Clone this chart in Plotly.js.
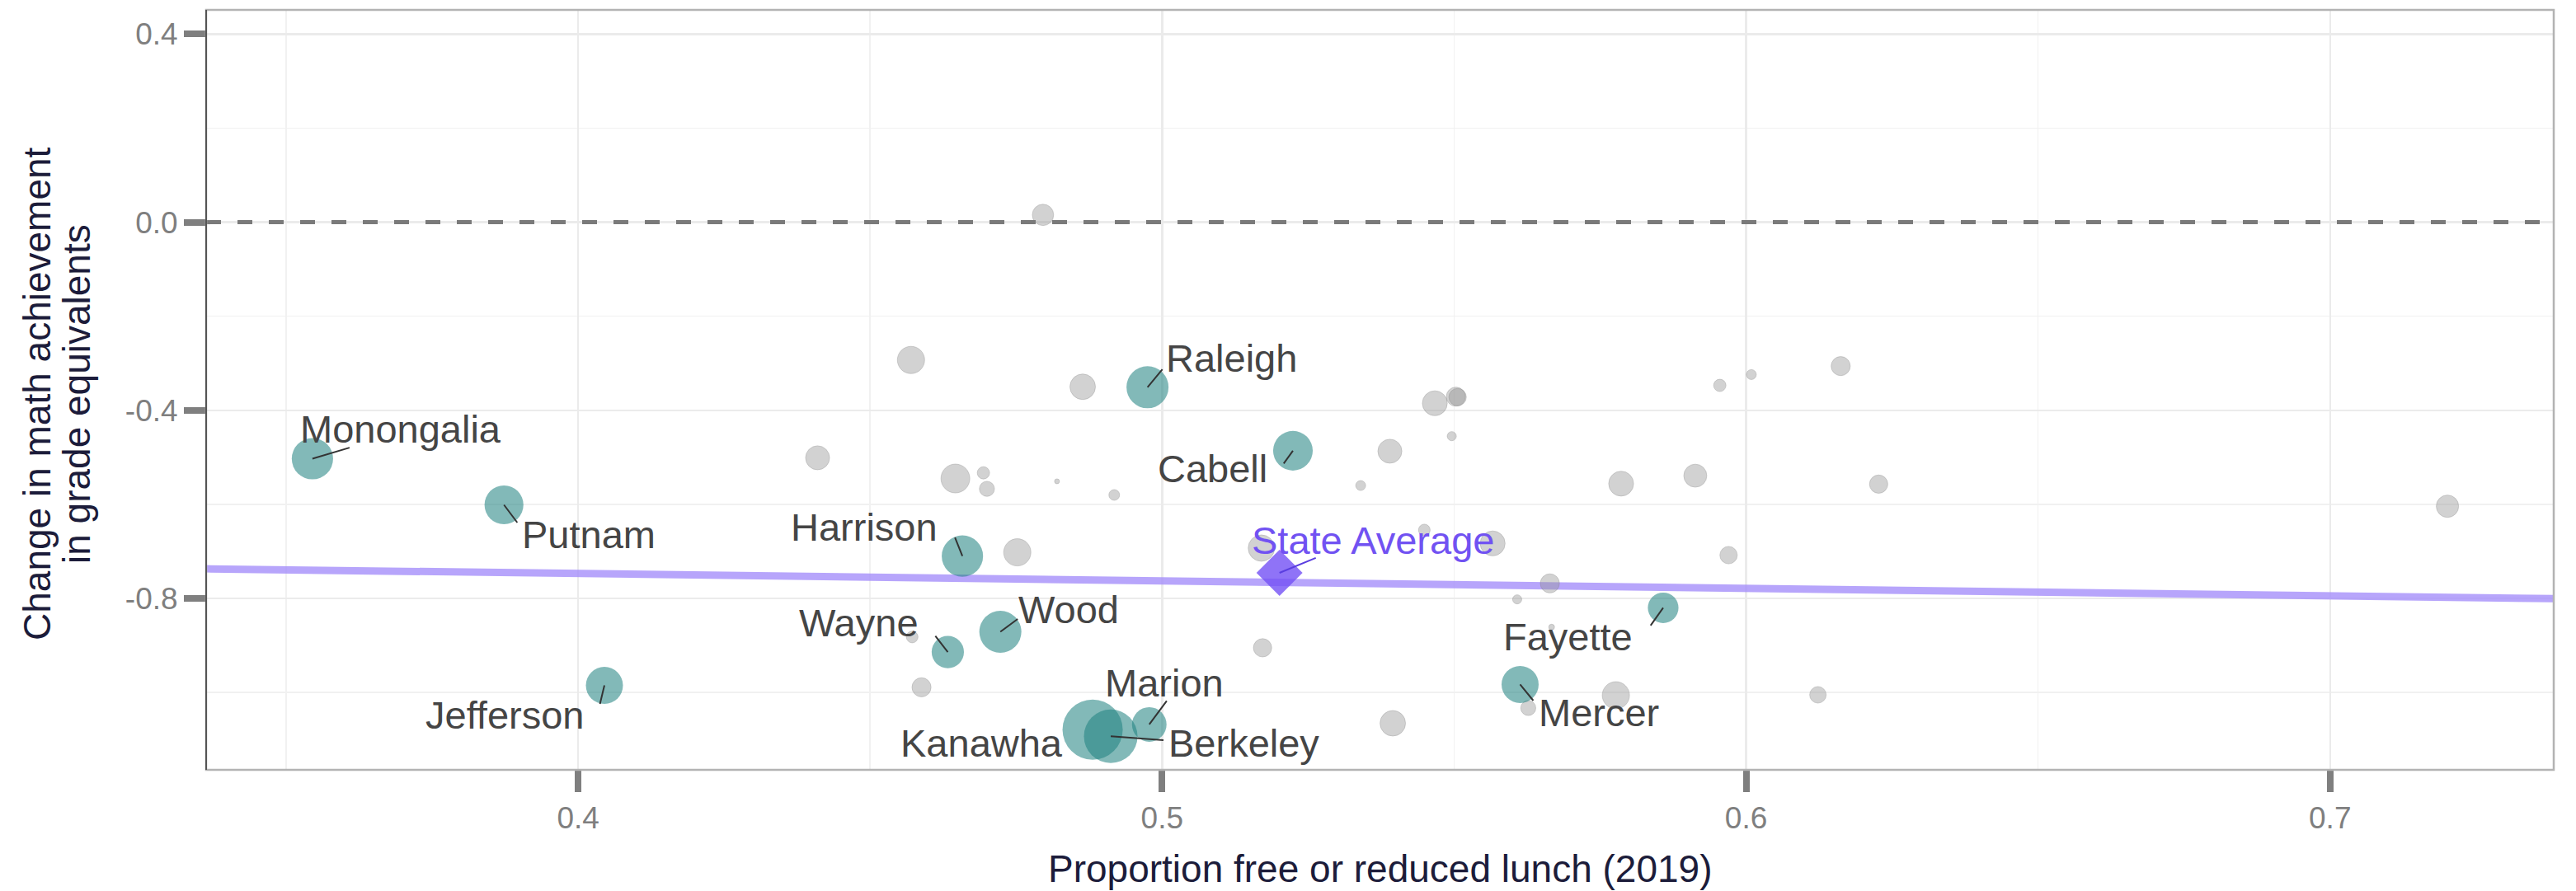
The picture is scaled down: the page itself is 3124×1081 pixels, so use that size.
<!DOCTYPE html>
<html>
<head>
<meta charset="utf-8">
<script src="https://cdn.plot.ly/plotly-3.0.1.min.js"></script>
<style>html,body{margin:0;padding:0;background:#fff;}#chart{width:3124px;height:1081px;}</style>
</head>
<body>
<div id="chart"></div>
<script>
// ---------- data ----------
// highlighted (labeled) counties
const tealNames = ['Monongalia','Putnam','Jefferson','Harrison','Wayne','Wood','Kanawha','Berkeley','Marion','Raleigh','Cabell','Fayette','Mercer'];
const tealFRL   = [0.3545,0.3873,0.4045,0.4658,0.4633,0.4723,0.4881,0.4912,0.4978,0.4975,0.5224,0.5858,0.5613];
const tealChange= [-0.503,-0.601,-0.985,-0.710,-0.914,-0.871,-1.079,-1.093,-1.068,-0.351,-0.486,-0.820,-0.983];
const tealEnroll= [11.3,10.0,9.1,11.3,6.9,11.7,24.0,19.0,7.9,11.7,10.4,6.2,9.1];

// other counties
const grayFRL   = [0.4796,0.4570,0.4864,0.5467,0.5503,0.5506,0.5955,0.6009,0.6162,0.5496,0.5390,0.4410,0.4646,0.4694,0.4700,0.4820,0.4918,0.5340,0.5786,0.5913,0.6227,0.7201,0.4752,0.5170,0.5449,0.5566,0.5970,0.5664,0.5608,0.5667,0.4572,0.5172,0.4588,0.5627,0.5777,0.6123,0.5395];
const grayChange= [0.0155,-0.293,-0.350,-0.385,-0.371,-0.372,-0.347,-0.324,-0.306,-0.455,-0.487,-0.501,-0.545,-0.533,-0.567,-0.551,-0.580,-0.560,-0.556,-0.539,-0.557,-0.604,-0.702,-0.693,-0.6545,-0.683,-0.708,-0.768,-0.802,-0.861,-0.882,-0.905,-0.989,-1.033,-1.006,-1.005,-1.0655];
const grayEnroll= [3.0,4.9,4.3,4.1,2.4,2.0,1.0,0.65,2.4,0.55,3.8,3.8,5.5,1.0,1.5,0.16,0.76,0.65,4.1,3.5,2.2,3.3,4.9,4.6,0.9,4.1,2.0,2.4,0.55,0.22,0.9,2.2,2.4,1.5,4.9,1.8,4.3];

// state average
const stateLabel = 'State Average';
const stateFRL = [0.5201];
const stateChange = [-0.7456];

// fitted trend (endpoints of the fitted line across the x range)
const trendFRL = [0.3363, 0.7383];
const trendChange = [-0.737, -0.8005];

// axis ticks
const xTicks = [0.4, 0.5, 0.6, 0.7];
const xTickText = ['0.4','0.5','0.6','0.7'];
const yTicks = [0.4, 0.0, -0.4, -0.8];
const yTickText = ['0.4','0.0','-0.4','-0.8'];

// ---------- label placement (pixel offsets from each point: segment end, text centre) ----------
const labelPlacement = {
  Monongalia:{seg:[47,-14],  txt:[107,-36]},
  Putnam:    {seg:[18,24],   txt:[103,36]},
  Jefferson: {seg:[-6,25],   txt:[-121,36]},
  Harrison:  {seg:[-10,-25], txt:[-119,-35]},
  Wayne:     {seg:[-17,-22], txt:[-108,-36]},
  Wood:      {seg:[23,-17],  txt:[83,-27]},
  Kanawha:   {seg:null,      txt:[-135,16]},
  Berkeley:  {seg:[66,5],    txt:[161,8]},
  Marion:    {seg:[23,-31],  txt:[18,-50]},
  Raleigh:   {seg:[20,-24],  txt:[102,-35]},
  Cabell:    {seg:[-13,18],  txt:[-97,22]},
  Fayette:   {seg:[-17,24],  txt:[-115,35]},
  Mercer:    {seg:[18,22],   txt:[96,34]}
};
const stateSeg = [46,-19], stateTxt = [113,-39];

const FONT = 'Liberation Sans, Arial, Helvetica, sans-serif';
const SIZEREF = 0.009;

const traces = [
  {type:'scatter', mode:'lines', x:trendFRL, y:trendChange, hoverinfo:'skip',
   line:{color:'rgba(165,143,250,0.8)', width:9}},
  {type:'scatter', mode:'markers', x:grayFRL, y:grayChange,
   marker:{size:grayEnroll, sizemode:'area', sizeref:SIZEREF, color:'rgba(150,150,150,0.6)',
           line:{color:'rgba(130,130,130,0.5)', width:1}}},
  {type:'scatter', mode:'markers', x:tealFRL, y:tealChange, text:tealNames,
   marker:{size:tealEnroll, sizemode:'area', sizeref:SIZEREF, color:'rgba(32,130,128,0.8)',
           line:{width:0}}},
  {type:'scatter', mode:'markers', x:stateFRL, y:stateChange,
   marker:{symbol:'diamond', size:43, color:'rgba(115,80,245,0.8)', line:{width:0}}}
];

const annotations = [];
tealNames.forEach((n,i)=>{
  const p = labelPlacement[n];
  if (!p.seg) return;
  annotations.push({x:tealFRL[i], y:tealChange[i], xref:'x', yref:'y', text:' ',
    font:{size:2}, showarrow:true, arrowhead:0, arrowwidth:2, arrowcolor:'#333333',
    ax:p.seg[0], ay:p.seg[1], standoff:0, startstandoff:0});
});
annotations.push({x:stateFRL[0], y:stateChange[0], xref:'x', yref:'y', text:' ',
  font:{size:2}, showarrow:true, arrowhead:0, arrowwidth:2, arrowcolor:'#5a3ee0',
  ax:stateSeg[0], ay:stateSeg[1]});
tealNames.forEach((n,i)=>{
  const p = labelPlacement[n];
  annotations.push({x:tealFRL[i], y:tealChange[i], xref:'x', yref:'y', text:n,
    showarrow:false, xanchor:'center', yanchor:'middle', xshift:p.txt[0], yshift:-p.txt[1],
    font:{family:FONT, size:47, color:'#454545'}});
});
annotations.push({x:stateFRL[0], y:stateChange[0], xref:'x', yref:'y', text:stateLabel,
  showarrow:false, xanchor:'center', yanchor:'middle', xshift:stateTxt[0], yshift:-stateTxt[1],
  font:{family:FONT, size:47, color:'#7152f2'}});
// axis titles
annotations.push({xref:'paper', yref:'paper', x:0, y:0.5, xshift:-205, yshift:-5, textangle:-90,
  text:'Change in math achievement', showarrow:false, xanchor:'center', yanchor:'middle',
  font:{family:FONT, size:46, color:'#1c1c3a'}});
annotations.push({xref:'paper', yref:'paper', x:0, y:0.5, xshift:-157, yshift:-5, textangle:-90,
  text:'in grade equivalents', showarrow:false, xanchor:'center', yanchor:'middle',
  font:{family:FONT, size:46, color:'#1c1c3a'}});
annotations.push({xref:'paper', yref:'paper', x:0.5, y:0, yshift:-120,
  text:'Proportion free or reduced lunch (2019)', showarrow:false, xanchor:'center', yanchor:'middle',
  font:{family:FONT, size:46, color:'#1c1c3a'}});

const layout = {
  width:3124, height:1081,
  margin:{l:250, r:27, t:12, b:147},
  paper_bgcolor:'#ffffff', plot_bgcolor:'#ffffff',
  showlegend:false,
  font:{family:FONT},
  xaxis:{range:[0.3363,0.7383], tickvals:xTicks, ticktext:xTickText, ticks:'outside', ticklen:26,
         tickwidth:8, tickcolor:'#7f7f7f', tickfont:{family:FONT, size:37, color:'#7f7f7f'},
         showgrid:true, gridcolor:'#ebebeb', gridwidth:2.5, zeroline:false, showline:false,
         minor:{tickvals:[0.35,0.45,0.55,0.65], showgrid:true, gridcolor:'#f1f1f1', gridwidth:1.5, ticks:''}},
  yaxis:{range:[-1.1645,0.4514], tickvals:yTicks, ticktext:yTickText, ticks:'outside', ticklen:26,
         tickwidth:8, tickcolor:'#7f7f7f', tickfont:{family:FONT, size:37, color:'#7f7f7f'},
         showgrid:true, gridcolor:'#ebebeb', gridwidth:2.5, zeroline:false, showline:false,
         minor:{tickvals:[0.2,-0.2,-0.6,-1.0], showgrid:true, gridcolor:'#f1f1f1', gridwidth:1.5, ticks:''}},
  shapes:[
    {type:'line', xref:'paper', yref:'y', x0:0, x1:1, y0:0, y1:0, layer:'above',
     line:{color:'#7a7a7a', width:5, dash:'18px,20px'}},
    {type:'rect', xref:'paper', yref:'paper', x0:0, x1:1, y0:0, y1:1, layer:'above',
     line:{color:'#b3b3b3', width:2.5}},
    {type:'line', xref:'paper', yref:'paper', x0:0, x1:0, y0:0, y1:1, layer:'above',
     line:{color:'#555555', width:2}}
  ],
  annotations:annotations
};

Plotly.newPlot('chart', traces, layout, {displayModeBar:false, staticPlot:true});
</script>
</body>
</html>
